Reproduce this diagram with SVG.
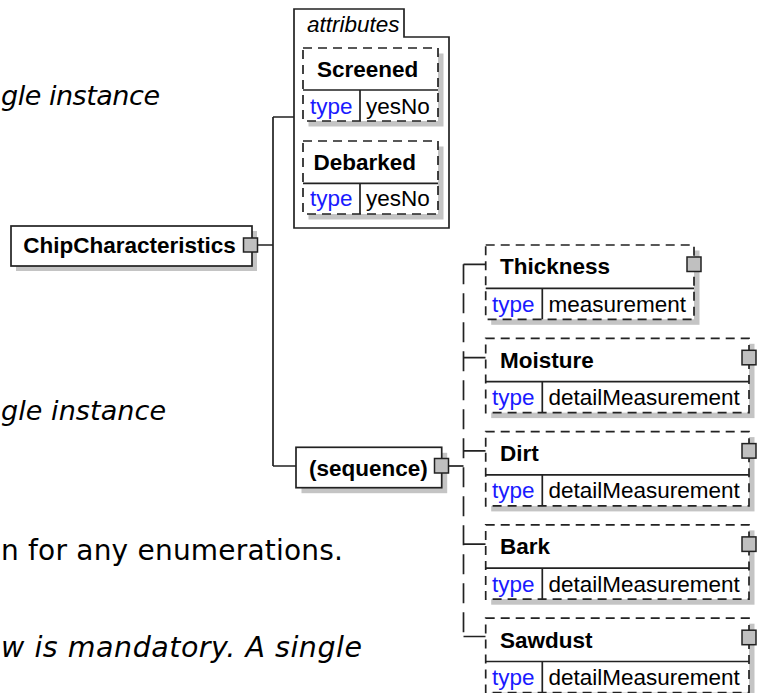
<svg xmlns="http://www.w3.org/2000/svg" width="757" height="693" viewBox="0 0 757 693">
<defs>
<style>
.bg{fill:#fff}
.box{fill:#fff;stroke:#222;stroke-width:1.7}
.dbox{fill:#fff;stroke:#222;stroke-width:1.7;stroke-dasharray:9 6}
.sh{fill:#c4c4c4}
.ln{fill:none;stroke:#222;stroke-width:1.7}
.dln{fill:none;stroke:#222;stroke-width:1.7;stroke-dasharray:20 9}
.sq{fill:#c0c0c0;stroke:#222;stroke-width:1.5}
.nm{font-family:"Liberation Sans",Arial,sans-serif;font-size:22.5px;font-weight:bold;fill:#000}
.ty{font-family:"Liberation Sans",Arial,sans-serif;font-size:22.5px;fill:#1a1aff}
.val{font-family:"Liberation Sans",Arial,sans-serif;font-size:22.5px;fill:#000}
.att{font-family:"Liberation Sans",Arial,sans-serif;font-size:22.5px;font-style:italic;fill:#000}
.doc{font-family:"DejaVu Sans",Verdana,sans-serif;font-size:28px;fill:#000}
.doci{font-family:"DejaVu Sans",Verdana,sans-serif;font-size:27px;font-style:italic;fill:#000}
</style>
</defs>
<rect class="bg" x="0" y="0" width="757" height="693"/>

<g id="doc-text">
<text class="doci" x="1" y="105" textLength="159" lengthAdjust="spacing">gle instance</text>
<text class="doci" x="1" y="420" textLength="165" lengthAdjust="spacing">gle instance</text>
<text class="doc" x="1" y="560" textLength="342" lengthAdjust="spacing">n for any enumerations.</text>
<text class="doci" x="1" y="657" style="font-size:28.5px" textLength="361" lengthAdjust="spacing">w is mandatory. A single</text>
</g>

<g id="connectors">
<path class="ln" d="M258,245 H273 M273,117 V466 M273,117 H294 M273,466 H296"/>
<path class="ln" d="M449,466 H463.5"/>
<path class="dln" d="M463.5,264.3 V636.5"/>
<path class="ln" d="M463.5,264.3 H485.7 M463.5,357.6 H485.7 M463.5,450.9 H485.7 M463.5,544.2 H485.7 M463.5,636.5 H485.7"/>
</g>

<g id="ChipCharacteristics">
<rect class="sh" x="16" y="231" width="241" height="40"/>
<rect class="box" x="11" y="226" width="241" height="40"/>
<text class="nm" x="23.3" y="253.3">ChipCharacteristics</text>
<rect class="sq" x="243.5" y="238" width="14" height="14"/>
</g>

<g id="attributes">
<path class="box" d="M294,228 V9 H404 V37 H449 V228 Z"/>
<text class="att" x="307" y="32">attributes</text>
</g>

<g id="Screened">
<rect class="sh" x="308.5" y="53.5" width="135" height="73"/>
<rect class="dbox" x="303" y="48" width="135" height="73"/>
<path class="ln" d="M303,90 H438 M360,90 V121"/>
<text class="nm" x="317" y="77">Screened</text>
<text class="ty" x="310" y="114">type</text>
<text class="val" x="366" y="114">yesNo</text>
</g>

<g id="Debarked">
<rect class="sh" x="308.5" y="146.5" width="135" height="73"/>
<rect class="dbox" x="303" y="141" width="135" height="73"/>
<path class="ln" d="M303,183.3 H438 M360,183.3 V214"/>
<text class="nm" x="313.5" y="170">Debarked</text>
<text class="ty" x="310" y="206">type</text>
<text class="val" x="366" y="206">yesNo</text>
</g>

<g id="sequence">
<rect class="sh" x="301.5" y="452.8" width="145.7" height="40.4"/>
<rect class="box" x="296" y="447.3" width="145.7" height="40.4"/>
<text class="nm" x="309" y="476">(sequence)</text>
<rect class="sq" x="434.5" y="458.5" width="14" height="14.5"/>
</g>

<g id="Thickness">
<rect class="sh" x="491.2" y="250.5" width="208.3" height="74.3"/>
<rect class="dbox" x="485.7" y="245" width="208.3" height="74.3"/>
<path class="ln" d="M485.7,288.3 H694 M542.3,288.3 V319.3"/>
<text class="nm" x="500" y="274.3">Thickness</text>
<text class="ty" x="492" y="311.7">type</text>
<text class="val" x="548.5" y="311.7">measurement</text>
<rect class="sq" x="687" y="257" width="14" height="14.5"/>
</g>

<g id="Moisture">
<rect class="sh" x="491.2" y="343.8" width="263.3" height="74.3"/>
<rect class="dbox" x="485.7" y="338.3" width="263.3" height="74.3"/>
<path class="ln" d="M485.7,381.6 H749 M542.3,381.6 V412.6"/>
<text class="nm" x="500" y="367.6">Moisture</text>
<text class="ty" x="492" y="405">type</text>
<text class="val" x="548.5" y="405">detailMeasurement</text>
<rect class="sq" x="742" y="350.3" width="14" height="14.5"/>
</g>

<g id="Dirt">
<rect class="sh" x="491.2" y="437.1" width="263.3" height="74.3"/>
<rect class="dbox" x="485.7" y="431.6" width="263.3" height="74.3"/>
<path class="ln" d="M485.7,474.9 H749 M542.3,474.9 V505.9"/>
<text class="nm" x="500" y="460.9">Dirt</text>
<text class="ty" x="492" y="498.3">type</text>
<text class="val" x="548.5" y="498.3">detailMeasurement</text>
<rect class="sq" x="742" y="443.6" width="14" height="14.5"/>
</g>

<g id="Bark">
<rect class="sh" x="491.2" y="530.4" width="263.3" height="74.3"/>
<rect class="dbox" x="485.7" y="524.9" width="263.3" height="74.3"/>
<path class="ln" d="M485.7,568.2 H749 M542.3,568.2 V599.2"/>
<text class="nm" x="500" y="554.2">Bark</text>
<text class="ty" x="492" y="591.6">type</text>
<text class="val" x="548.5" y="591.6">detailMeasurement</text>
<rect class="sq" x="742" y="536.9" width="14" height="14.5"/>
</g>

<g id="Sawdust">
<rect class="sh" x="491.2" y="623.7" width="263.3" height="74.3"/>
<rect class="dbox" x="485.7" y="618.2" width="263.3" height="74.3"/>
<path class="ln" d="M485.7,661.5 H749 M542.3,661.5 V692.5"/>
<text class="nm" x="500" y="647.5">Sawdust</text>
<text class="ty" x="492" y="684.9">type</text>
<text class="val" x="548.5" y="684.9">detailMeasurement</text>
<rect class="sq" x="742" y="630.2" width="14" height="14.5"/>
</g>
</svg>
